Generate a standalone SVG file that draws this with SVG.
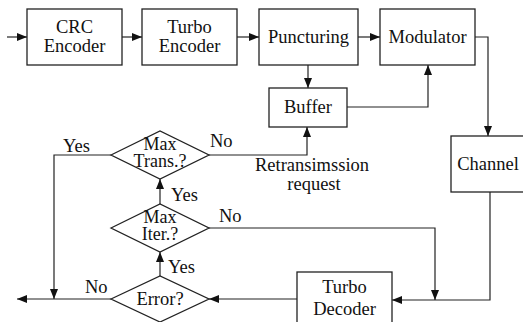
<svg xmlns="http://www.w3.org/2000/svg" width="523" height="322" viewBox="0 0 523 322">
<style>
.b{fill:#fff;stroke:#222;stroke-width:1.3}
.t{font-family:'Liberation Serif','Times New Roman','DejaVu Serif',serif;font-size:18.5px;fill:#111;text-anchor:middle}
.d{font-family:'Liberation Serif','Times New Roman','DejaVu Serif',serif;font-size:18px;fill:#111;text-anchor:middle}
.l{font-family:'Liberation Serif','Times New Roman','DejaVu Serif',serif;font-size:18.5px;fill:#111}
.c{fill:none;stroke:#222;stroke-width:1.2}
.a{marker-end:url(#ah)}
</style>
<defs>
<marker id="ah" viewBox="0 0 10 8" refX="10" refY="4" markerWidth="10" markerHeight="8" markerUnits="userSpaceOnUse" orient="auto">
<path d="M0,0 L10,4 L0,8 Z" fill="#111"/>
</marker>
</defs>
<rect width="523" height="322" fill="#fff"/>
<g id="connectors">
<path class="c a" d="M7,37 H27"/>
<path class="c a" d="M122,37 H142"/>
<path class="c a" d="M237,37 H259"/>
<path class="c a" d="M358,37 H380"/>
<path class="c a" d="M308,65 V88"/>
<path class="c a" d="M347,107 H428 V65"/>
<path class="c a" d="M475,37 H488 V136"/>
<path class="c a" d="M490,192 V300 H392"/>
<path class="c a" d="M297,299 H209"/>
<path class="c a" d="M209,228 H435 V300"/>
<path class="c a" d="M209,155 H307 V127"/>
<path class="c a" d="M160,276 V252"/>
<path class="c a" d="M160,204 V179"/>
<path class="c a" d="M111,155 H54 V299"/>
<path class="c a" d="M111,299 H17"/>
</g>
<g id="crc">
<rect class="b" x="27" y="9" width="95" height="56"/>
<text class="t" x="74.5" y="33">CRC</text>
<text class="t" x="74.5" y="52">Encoder</text>
</g>
<g id="turbo-encoder">
<rect class="b" x="142" y="9" width="95" height="56"/>
<text class="t" x="189.5" y="33">Turbo</text>
<text class="t" x="189.5" y="52">Encoder</text>
</g>
<g id="puncturing">
<rect class="b" x="259" y="9" width="99" height="56"/>
<text class="t" x="308.5" y="43">Puncturing</text>
</g>
<g id="modulator">
<rect class="b" x="380" y="9" width="95" height="56"/>
<text class="t" x="427.5" y="43">Modulator</text>
</g>
<g id="buffer">
<rect class="b" x="269" y="88" width="78" height="39"/>
<text class="t" x="308" y="113">Buffer</text>
</g>
<g id="channel">
<rect class="b" x="451" y="136" width="80" height="56"/>
<text class="t" x="488" y="170">Channel</text>
</g>
<g id="turbo-decoder">
<rect class="b" x="297" y="272" width="95" height="60"/>
<text class="t" x="344.5" y="293">Turbo</text>
<text class="t" x="344.5" y="315">Decoder</text>
</g>
<g id="max-trans">
<path class="b" d="M111,155 L160,131 L209,155 L160,179 Z"/>
<text class="d" x="160" y="150">Max</text>
<text class="d" x="160" y="167">Trans.?</text>
</g>
<g id="max-iter">
<path class="b" d="M111,228 L160,204 L209,228 L160,252 Z"/>
<text class="d" x="160" y="223">Max</text>
<text class="d" x="160" y="240">Iter.?</text>
</g>
<g id="error">
<path class="b" d="M111,299 L160,276 L209,299 L160,322 Z"/>
<text class="t" x="160" y="305">Error?</text>
</g>
<g id="labels">
<text class="l" x="63" y="152">Yes</text>
<text class="l" x="210" y="147">No</text>
<text class="l" x="171" y="201">Yes</text>
<text class="l" x="219" y="222">No</text>
<text class="l" x="168" y="273">Yes</text>
<text class="l" x="85" y="293">No</text>
<text class="t" x="312" y="171">Retransimssion</text>
<text class="t" x="314" y="190">request</text>
</g>
</svg>
